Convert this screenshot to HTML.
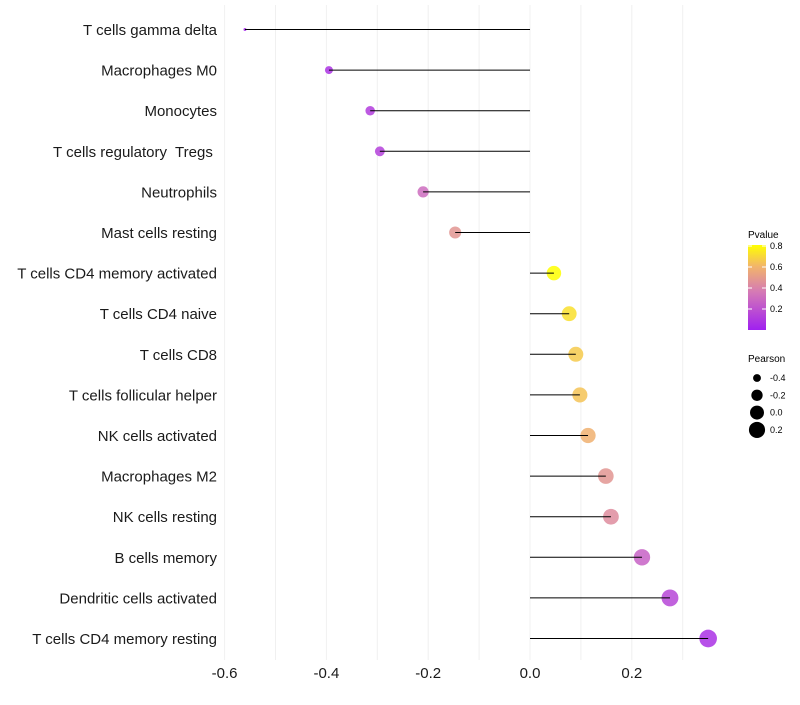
<!DOCTYPE html>
<html><head><meta charset="utf-8"><style>
body{margin:0;background:#fff;font-family:"Liberation Sans",sans-serif}
svg text{font-family:"Liberation Sans",sans-serif;white-space:pre}
</style></head><body>
<svg id="chart" width="800" height="700" xmlns="http://www.w3.org/2000/svg">
<defs><linearGradient id="pg" x1="0" y1="1" x2="0" y2="0">
<stop offset="0" stop-color="#a020f0"/><stop offset="0.45" stop-color="#d57ab5"/><stop offset="0.75" stop-color="#f2b56a"/><stop offset="1" stop-color="#ffff00"/></linearGradient></defs>
<g id="grid"></g>
<g id="points"></g>
<g id="marks"></g>
<g id="ylab"></g>
<g id="xlab"></g>
<g>
<text x="748" y="238" font-size="10">Pvalue</text>
<rect x="748" y="245" width="18" height="85" fill="url(#pg)"/>
<g id="cbticks"></g>
</g>
<g>
<text x="748" y="362" font-size="10">Pearson</text>
<g id="sizeleg"></g>
</g>
</svg>
<script>
const categories=["T cells gamma delta","Macrophages M0","Monocytes","T cells regulatory  Tregs ","Neutrophils","Mast cells resting","T cells CD4 memory activated","T cells CD4 naive","T cells CD8","T cells follicular helper","NK cells activated","Macrophages M2","NK cells resting","B cells memory","Dendritic cells activated","T cells CD4 memory resting"];
const pearson=[-0.56,-0.395,-0.314,-0.295,-0.21,-0.147,0.047,0.077,0.09,0.098,0.114,0.149,0.159,0.22,0.275,0.35];
const pvalue=[0.04,0.08,0.12,0.14,0.32,0.5,0.85,0.76,0.7,0.68,0.62,0.5,0.46,0.28,0.16,0.07];
const xTicks=[-0.6,-0.4,-0.2,0.0,0.2];
const xTickLabels=["-0.6","-0.4","-0.2","0.0","0.2"];
const cbTicks=[0.2,0.4,0.6,0.8];
const sizeLegend=[-0.4,-0.2,0.0,0.2];
const NS="http://www.w3.org/2000/svg";
const X=v=>530+v*509;
const Y=i=>29.5+i*40.6;
const R=v=>Math.sqrt(Math.max(1,48.7+83*v));
function mk(t,a,p){const e=document.createElementNS(NS,t);for(const k in a)e.setAttribute(k,a[k]);p.appendChild(e);return e;}
function lerp(a,b,t){return a+(b-a)*t}
const stops=[[0,[160,32,240]],[0.38,[213,122,181]],[0.64,[242,181,106]],[0.85,[255,255,0]]];
function col(p){p=Math.min(0.85,Math.max(0,p));for(let i=0;i<stops.length-1;i++){const [a,ca]=stops[i],[b,cb]=stops[i+1];if(p<=b){const t=(p-a)/(b-a);return `rgb(${ca.map((c,j)=>Math.round(lerp(c,cb[j],t))).join(',')})`;}}return 'rgb(255,255,0)';}
const g=document.getElementById('grid');
for(let v=-0.6;v<=0.351;v+=0.1){const l=mk('line',{x1:X(v),x2:X(v),y1:5,y2:660,stroke:'#f0f0f0','stroke-width':1},g);

}
const m=document.getElementById('marks'),pts=document.getElementById('points'),yl=document.getElementById('ylab');
categories.forEach((c,i)=>{
const p=mk('circle',{cx:X(pearson[i]),cy:Y(i),r:R(pearson[i]),fill:col(pvalue[i]),'fill-opacity':0.85},pts);


const l=mk('line',{x1:X(0),x2:X(pearson[i]),y1:Y(i),y2:Y(i),stroke:'#000','stroke-width':1},m);


const t=mk('text',{x:217,y:Y(i)+5.5,'text-anchor':'end','font-size':15,fill:'#1a1a1a'},yl);t.textContent=c;


});
const xl=document.getElementById('xlab');
xTicks.forEach((v,i)=>{const t=mk('text',{x:X(v),y:678,'text-anchor':'middle','font-size':15,fill:'#1a1a1a'},xl);t.textContent=xTickLabels[i];

});
const cb=document.getElementById('cbticks');
cbTicks.forEach(v=>{const y=330-v/0.8*84;mk('line',{x1:748,x2:752,y1:y,y2:y,stroke:'#fff'},cb);mk('line',{x1:762,x2:766,y1:y,y2:y,stroke:'#fff'},cb);
const t=mk('text',{x:770,y:y+3,'font-size':9},cb);t.textContent=v.toFixed(1);

});
const sl=document.getElementById('sizeleg');
sizeLegend.forEach((v,i)=>{const y=378+i*17.3;const c=mk('circle',{cx:757,cy:y,r:R(v),fill:'#000'},sl);


const t=mk('text',{x:770,y:y+3,'font-size':9},sl);t.textContent=v.toFixed(1);

});
</script>
</body></html>
